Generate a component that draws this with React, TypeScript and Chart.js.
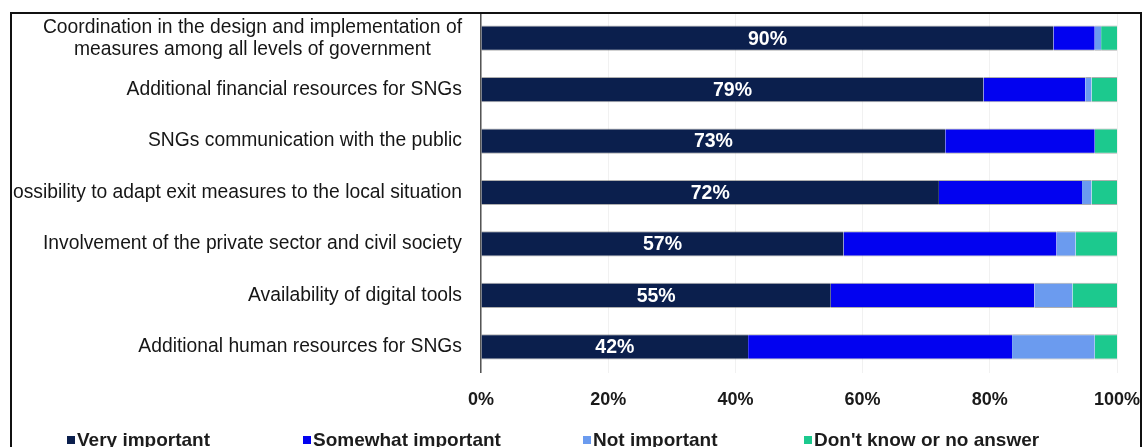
import React, { useEffect, useRef } from "react";
import { Chart, registerables } from "chart.js";

Chart.register(...registerables);

const categories: (string | string[])[] = [
  ["Coordination in the design and implementation of", "measures among all levels of government"],
  "Additional financial resources for SNGs",
  "SNGs communication with the public",
  "Possibility to adapt exit measures to the local situation",
  "Involvement of the private sector and civil society",
  "Availability of digital tools",
  "Additional human resources for SNGs",
];

const veryImportant = [90, 79, 73, 72, 57, 55, 42];
const somewhatImportant = [6.5, 16, 23.5, 22.5, 33.5, 32, 41.5];
const notImportant = [1, 1, 0, 1.5, 3, 6, 13];
const dontKnow = [2.5, 4, 3.5, 4, 6.5, 7, 3.5];

const seriesNames = ["Very important", "Somewhat important", "Not important", "Don't know or no answer"];
const seriesColors = ["#0b1f4d", "#0202f0", "#6b9bef", "#1cc98e"];

const xMin = 0;
const xMax = 100;
const xStep = 20;

const FONT = "'Liberation Sans', Arial, sans-serif";

// layout (page px)
const CANVAS_W = 1144;
const CANVAS_H = 447;
const PLOT_LEFT = 481;
const PLOT_TOP = 12.5;
const PLOT_BOTTOM = 372.5;
const RIGHT_PAD = 27;
const Y_LABEL_RIGHT = 462;
const legendMarkerX = [67, 303, 583, 804];

const labelsPlugin = {
  id: "customLabels",
  afterDatasetsDraw(chart: any) {
    const ctx = chart.ctx;
    const yScale = chart.scales.y;
    ctx.save();
    // category labels
    ctx.font = `19.3px ${FONT}`;
    ctx.fillStyle = "#161616";
    ctx.textBaseline = "middle";
    ctx.textAlign = "center";
    categories.forEach((cat, i) => {
      const lines = Array.isArray(cat) ? cat : [cat];
      const widths = lines.map((l) => ctx.measureText(l).width);
      const maxW = Math.max(...widths);
      const cx = Y_LABEL_RIGHT - maxW / 2;
      const cy = yScale.getPixelForValue(i);
      lines.forEach((l, j) => {
        const yy = cy + (j - (lines.length - 1) / 2) * 22;
        ctx.fillText(l, cx, yy);
      });
    });
    // value labels on first series
    const meta = chart.getDatasetMeta(0);
    ctx.font = `bold 19.5px ${FONT}`;
    ctx.fillStyle = "#ffffff";
    meta.data.forEach((bar: any, i: number) => {
      const cx = (bar.x + bar.base) / 2;
      ctx.fillText(`${veryImportant[i]}%`, cx, bar.y + 1);
    });
    ctx.restore();
  },
};

export default function App() {
  const canvasRef = useRef<HTMLCanvasElement | null>(null);

  useEffect(() => {
    if (!canvasRef.current) return;
    const series = [veryImportant, somewhatImportant, notImportant, dontKnow];
    const chart = new Chart(canvasRef.current, {
      type: "bar",
      data: {
        labels: categories.map((c) => (Array.isArray(c) ? c.join(" ") : c)),
        datasets: series.map((data, k) => ({
          label: seriesNames[k],
          data,
          backgroundColor: seriesColors[k],
          borderColor: "rgba(110,110,110,0.55)",
          borderWidth: { top: 1, bottom: 1, left: 0, right: 0 },
          borderSkipped: false,
          categoryPercentage: 1,
          barPercentage: 0.49,
        })),
      },
      options: {
        indexAxis: "y",
        responsive: false,
        animation: false,
        devicePixelRatio: 1,
        layout: {
          padding: { top: PLOT_TOP, right: RIGHT_PAD, left: 0, bottom: 0 },
        },
        plugins: {
          legend: { display: false },
          tooltip: { enabled: false },
        },
        scales: {
          x: {
            stacked: true,
            min: xMin,
            max: xMax,
            ticks: {
              stepSize: xStep,
              maxRotation: 0,
              padding: 17,
              color: "#1a1a1a",
              font: { family: FONT, size: 18, weight: "bold" },
              callback: (v: any) => `${v}%`,
            },
            grid: { color: "#f1f1f1", drawTicks: false },
            border: { display: false },
            afterFit: (s: any) => {
              s.height = CANVAS_H - PLOT_BOTTOM;
              s.paddingLeft = 0;
              s.paddingRight = 0;
            },
          },
          y: {
            stacked: true,
            ticks: { display: false },
            grid: { display: false },
            border: { display: true, color: "#555555", width: 1.5 },
            afterFit: (s: any) => {
              s.width = PLOT_LEFT;
            },
          },
        },
      } as any,
      plugins: [labelsPlugin],
    });
    return () => chart.destroy();
  }, []);

  const frameLeft = 10;
  const frameTop = 12;
  const inner = { x: frameLeft + 2, y: frameTop + 2 };

  return (
    <div
      style={{
        position: "fixed",
        left: 0,
        top: 0,
        width: CANVAS_W,
        height: CANVAS_H,
        overflow: "hidden",
        background: "#ffffff",
      }}
    >
      <div
        style={{
          position: "absolute",
          left: frameLeft,
          top: frameTop,
          width: 1128,
          height: CANVAS_H - frameTop - 2,
          borderTop: "2px solid #111",
          borderLeft: "2px solid #111",
          borderRight: "2px solid #111",
          overflow: "hidden",
        }}
      >
        <canvas
          ref={canvasRef}
          width={CANVAS_W}
          height={CANVAS_H}
          style={{ position: "absolute", left: -inner.x, top: -inner.y, width: CANVAS_W, height: CANVAS_H }}
        />
        {seriesNames.map((name, k) => (
          <React.Fragment key={name}>
            <div
              style={{
                position: "absolute",
                left: legendMarkerX[k] - inner.x,
                top: 436 - inner.y,
                width: 8,
                height: 8,
                background: seriesColors[k],
              }}
            />
            <div
              style={{
                position: "absolute",
                left: legendMarkerX[k] + 10 - inner.x,
                top: 429 - inner.y,
                font: `bold 19px ${FONT}`,
                lineHeight: "22px",
                color: "#1c1c1c",
                whiteSpace: "nowrap",
              }}
            >
              {name}
            </div>
          </React.Fragment>
        ))}
      </div>
    </div>
  );
}
